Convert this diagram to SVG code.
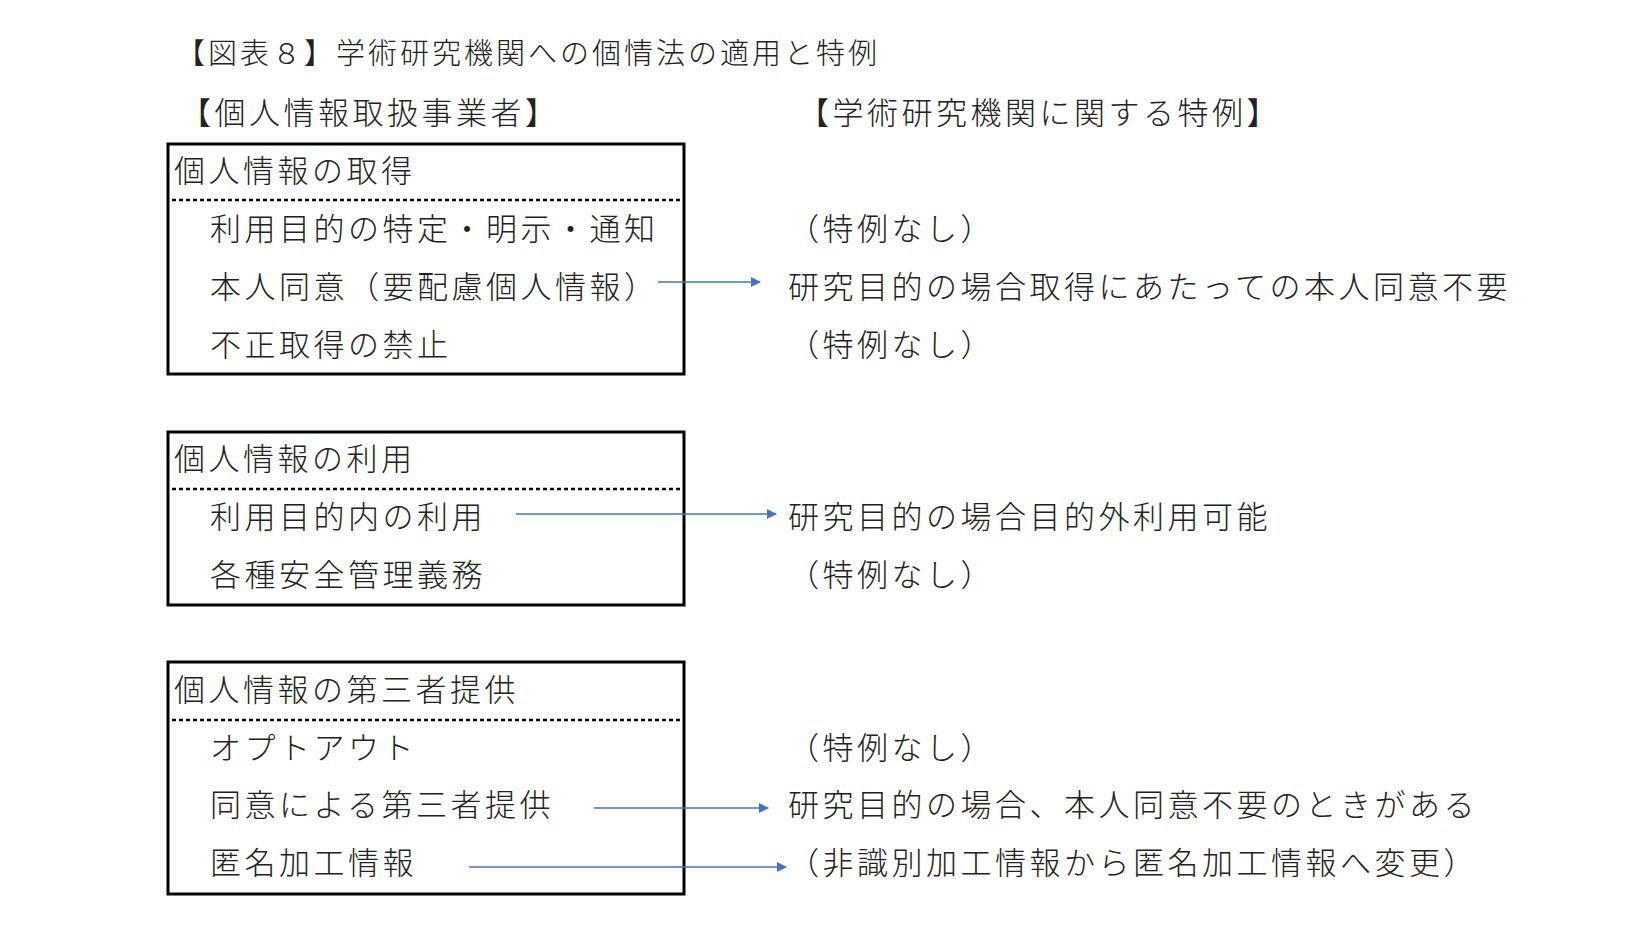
<svg xmlns="http://www.w3.org/2000/svg" width="1638" height="938" viewBox="0 0 1638 938">
<style>
text{font-family:"Noto Sans CJK JP","Noto Sans",sans-serif;font-weight:300;fill:#222;font-size:31px;letter-spacing:3.5px}
.t{font-size:29px;letter-spacing:3px}
.box{fill:none;stroke:#000;stroke-width:3}
.dash{stroke:#000;stroke-width:2.5;stroke-dasharray:4 3}
.arr{stroke:#4472c4;stroke-width:1.6;fill:none;marker-end:url(#a)}
</style>
<defs><marker id="a" markerWidth="10" markerHeight="10" refX="9" refY="5" orient="auto" markerUnits="userSpaceOnUse" viewBox="0 0 10 10"><path d="M0,0L10,5L0,10z" fill="#4472c4"/></marker></defs>
<rect width="1638" height="938" fill="#fff"/>
<text class="t" x="176" y="64">【図表８】学術研究機関への個情法の適用と特例</text>
<text x="180" y="124">【個人情報取扱事業者】</text>
<text x="798" y="124">【学術研究機関に関する特例】</text>
<g id="box1"><rect class="box" x="168" y="144" width="516" height="230"/><line class="dash" x1="172" y1="200" x2="682" y2="200"/>
<text x="174" y="182">個人情報の取得</text>
<text x="210" y="240">利用目的の特定・明示・通知</text>
<text x="210" y="298">本人同意（要配慮個人情報）</text>
<text x="210" y="356">不正取得の禁止</text></g>
<g id="box2"><rect class="box" x="168" y="432" width="516" height="173"/><line class="dash" x1="172" y1="489" x2="682" y2="489"/>
<text x="174" y="470">個人情報の利用</text>
<text x="210" y="528">利用目的内の利用</text>
<text x="210" y="586">各種安全管理義務</text></g>
<g id="box3"><rect class="box" x="168" y="662" width="516" height="232"/><line class="dash" x1="172" y1="720" x2="682" y2="720"/>
<text x="174" y="701">個人情報の第三者提供</text>
<text x="210" y="759">オプトアウト</text>
<text x="210" y="816">同意による第三者提供</text>
<text x="210" y="874">匿名加工情報</text></g>
<g id="right">
<text x="788" y="240">（特例なし）</text>
<text x="788" y="298">研究目的の場合取得にあたっての本人同意不要</text>
<text x="788" y="356">（特例なし）</text>
<text x="788" y="528">研究目的の場合目的外利用可能</text>
<text x="788" y="586">（特例なし）</text>
<text x="788" y="759">（特例なし）</text>
<text x="788" y="816">研究目的の場合、本人同意不要のときがある</text>
<text x="788" y="874">（非識別加工情報から匿名加工情報へ変更）</text></g>
<g id="connectors">
<line class="arr" x1="658" y1="282" x2="760" y2="282"/>
<line class="arr" x1="516" y1="514" x2="776" y2="514"/>
<line class="arr" x1="594" y1="808" x2="768" y2="808"/>
<line class="arr" x1="469" y1="867" x2="786" y2="867"/>
</g>
</svg>
